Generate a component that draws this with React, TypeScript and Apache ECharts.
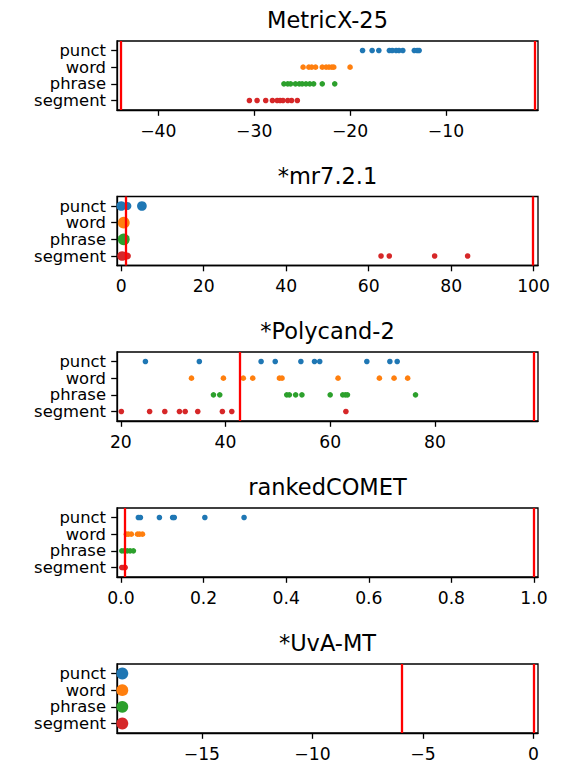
import React, { useEffect, useRef } from "react";
import * as echarts from "echarts";

const categories = ["punct", "word", "phrase", "segment"];
const panelTitles = ["MetricX-25", "*mr7.2.1", "*Polycand-2", "rankedCOMET", "*UvA-MT"];
const colors = ["#1f77b4", "#ff7f0e", "#2ca02c", "#d62728"];

// Each point: value, or [value, multiplicity]
const metricxPunct = [-18.7, -17.7, -17.0, -15.9, -15.6, -15.2, -14.9, -14.5, -13.3, -13.0, -12.8];
const metricxWord = [-24.9, -24.3, -24.0, -23.6, -22.9, -22.5, -22.2, -21.9, -21.7, -20.0];
const metricxPhrase = [-26.9, -26.5, -26.2, -25.7, -25.3, -25.0, -24.6, -24.2, -23.8, -22.9, -21.6];
const metricxSegment = [-30.5, -29.7, -28.8, -28.1, -27.6, -27.3, -27.0, -26.5, -26.1, -25.5];
const metricxLines = [-43.9, -0.78];
const metricxRange = [-44.31, -0.4];
const metricxTicks = [-40, -30, -20, -10];

const mrPunct = [[0, 3], [1.5, 2], [5, 3]];
const mrWord = [[0.6, 4.5]];
const mrPhrase = [[0.6, 4.5]];
const mrSegment = [[0.2, 3], [1.5, 1.5], [63, 1], [65, 1], [76, 1], [84, 1]];
const mrLines = [1.0, 99.9];
const mrRange = [-1.04, 101.07];
const mrTicks = [0, 20, 40, 60, 80, 100];

const polyPunct = [24.7, 35.0, 46.8, 49.5, 54.4, 57.0, 58.0, 67.0, 71.4, 72.8];
const polyWord = [33.5, 39.6, 43.4, 45.2, 50.3, 50.8, 61.5, 69.4, 72.2, 74.8];
const polyPhrase = [37.7, 38.9, 51.7, 52.2, 53.4, 54.6, 60.0, 62.4, 62.9, 63.3, 76.3];
const polySegment = [20.1, 25.5, 28.4, 31.2, 32.3, 34.7, 39.4, 41.2, 63.0];
const polyLines = [42.7, 98.85];
const polyRange = [19.27, 99.7];
const polyTicks = [20, 40, 60, 80];

const cometPunct = [0.042, 0.047, 0.093, 0.125, 0.129, 0.203, 0.298];
const cometWord = [0.013, 0.018, 0.025, 0.04, 0.045, 0.052];
const cometPhrase = [0.002, 0.008, 0.015, 0.022, 0.03];
const cometSegment = [0.002, 0.006, 0.01];
const cometLines = [0.006, 1.0];
const cometRange = [-0.0097, 1.0097];
const cometTicks = [0, 0.2, 0.4, 0.6, 0.8, 1.0];

const uvaPunct = [[-18.6, 4.5]];
const uvaWord = [[-18.6, 4.5]];
const uvaPhrase = [[-18.6, 4.5]];
const uvaSegment = [[-18.6, 4.5]];
const uvaLines = [-5.94, 0];
const uvaRange = [-18.84, 0.2];
const uvaTicks = [-15, -10, -5, 0];

type Pt = number | number[];

const panels: { series: Pt[][]; lines: number[]; range: number[]; ticks: number[]; dec: number }[] = [
  { series: [metricxPunct, metricxWord, metricxPhrase, metricxSegment], lines: metricxLines, range: metricxRange, ticks: metricxTicks, dec: 0 },
  { series: [mrPunct, mrWord, mrPhrase, mrSegment], lines: mrLines, range: mrRange, ticks: mrTicks, dec: 0 },
  { series: [polyPunct, polyWord, polyPhrase, polySegment], lines: polyLines, range: polyRange, ticks: polyTicks, dec: 0 },
  { series: [cometPunct, cometWord, cometPhrase, cometSegment], lines: cometLines, range: cometRange, ticks: cometTicks, dec: 1 },
  { series: [uvaPunct, uvaWord, uvaPhrase, uvaSegment], lines: uvaLines, range: uvaRange, ticks: uvaTicks, dec: 0 },
];

const FONT = "DejaVu Sans";
const Y_MIN = -0.57;
const Y_MAX = 3.57;

export default function App() {
  const ref = useRef<HTMLDivElement>(null);
  useEffect(() => {
    if (!ref.current) return;
    const chart = echarts.init(ref.current, null, { renderer: "svg" });
    const gridTops = [41, 196.5, 352, 508, 664];
    const gridLeft = 117;
    const gridWidth = 421;
    const gridHeight = 69;
    const titleSize = 22.5;
    const tickSize = 17.2;
    const catSize = 16.4;

    const fmt = (dec: number) => (v: number) => {
      const s = Math.abs(v).toFixed(dec);
      return v < -1e-9 ? "\u2212" + s : s;
    };

    const grids = gridTops.map((t) => ({
      left: gridLeft,
      top: t,
      width: gridWidth,
      height: gridHeight,
      show: true,
      borderColor: "#000",
      borderWidth: 1.3,
      backgroundColor: "#fff",
      containLabel: false,
    }));

    const titles = panelTitles.map((t, i) => ({
      text: t,
      left: gridLeft + gridWidth / 2,
      textAlign: "center",
      top: gridTops[i] - 21 - titleSize / 2,
      padding: 0,
      textStyle: { fontFamily: FONT, fontSize: titleSize, lineHeight: titleSize, fontWeight: "normal", color: "#000" },
    }));

    const xAxes = panels.map((p, i) => ({
      type: "value",
      gridIndex: i,
      min: p.range[0],
      max: p.range[1],
      axisLine: { show: true, onZero: false, lineStyle: { color: "#000", width: 1.3 } },
      axisTick: { show: true, customValues: p.ticks, length: 5.8, inside: false, lineStyle: { color: "#000", width: 1.3 } },
      axisLabel: {
        show: true,
        customValues: p.ticks,
        formatter: fmt(p.dec),
        margin: 12,
        fontFamily: FONT,
        fontSize: tickSize,
        color: "#000",
      },
      splitLine: { show: false },
    }));

    const yAxes: any[] = [];
    panels.forEach((_p, i) => {
      yAxes.push({
        type: "value",
        gridIndex: i,
        position: "left",
        inverse: true,
        min: Y_MIN,
        max: Y_MAX,
        axisLine: { show: true, onZero: false, lineStyle: { color: "#000", width: 1.3 } },
        axisTick: { show: true, customValues: [0, 1, 2, 3], length: 5.8, lineStyle: { color: "#000", width: 1.3 } },
        axisLabel: { show: false },
        splitLine: { show: false },
      });
      categories.forEach((c, ci) => {
        yAxes.push({
          type: "value",
          gridIndex: i,
          position: "left",
          offset: 0,
          inverse: true,
          min: Y_MIN,
          max: Y_MAX,
          axisLine: { show: false, onZero: false },
          axisTick: { show: false },
          axisLabel: {
            show: true,
            customValues: [ci],
            formatter: () => c,
            margin: 11,
            fontFamily: FONT,
            fontSize: catSize,
            lineHeight: 15,
            color: "#000",
          },
          splitLine: { show: false },
        });
      });
    });

    const series: any[] = [];
    panels.forEach((p, pi) => {
      const yIdx = pi * 5;
      p.series.forEach((vals, ci) => {
        series.push({
          type: "scatter",
          xAxisIndex: pi,
          yAxisIndex: yIdx,
          data: vals.map((v) => (Array.isArray(v) ? [v[0], ci, v[1]] : [v, ci, 1])),
          symbol: "circle",
          symbolSize: (d: number[]) => 5.6 * Math.sqrt(d[2] || 1),
          itemStyle: { color: colors[ci], opacity: 1 },
          z: 2 + ci * 0.01,
          silent: true,
        });
      });
      series.push({
        type: "scatter",
        xAxisIndex: pi,
        yAxisIndex: yIdx,
        data: [],
        z: 5,
        silent: true,
        markLine: {
          silent: true,
          symbol: ["none", "none"],
          label: { show: false },
          animation: false,
          z: 5,
          lineStyle: { color: "#ff0000", width: 2.3, type: "solid" },
          data: p.lines.map((v) => ({ xAxis: v })),
        },
      });
    });

    chart.setOption({
      animation: false,
      backgroundColor: "#fff",
      title: titles,
      grid: grids,
      xAxis: xAxes,
      yAxis: yAxes,
      series,
    });
    return () => chart.dispose();
  }, []);
  return (
    <div
      ref={ref}
      style={{ position: "fixed", left: 0, top: 0, width: 563, height: 766, background: "#fff" }}
    />
  );
}
